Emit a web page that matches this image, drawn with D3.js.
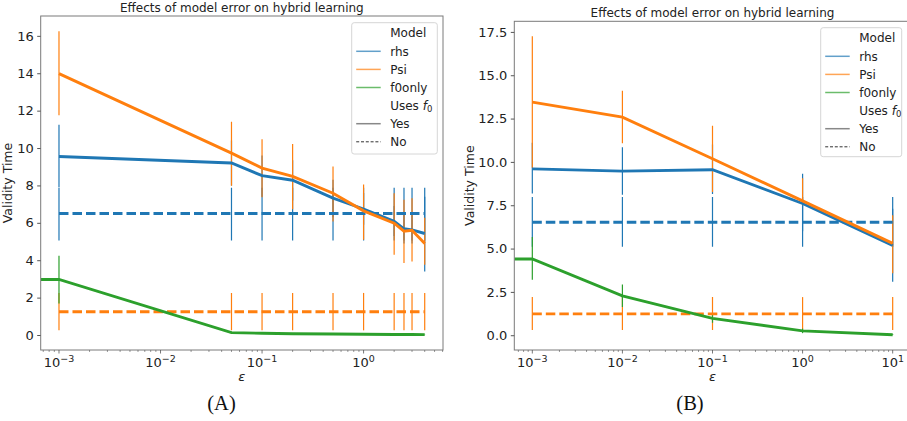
<!DOCTYPE html>
<html>
<head>
<meta charset="utf-8">
<script src="https://cdn.jsdelivr.net/npm/d3@7"></script>
<style>
  body { margin: 0; background: #fff; }
  svg { display: block; font-family: "DejaVu Sans", sans-serif; }
</style>
</head>
<body>
<div id="wrapper"></div>
<script>
// ---- panel A data ----
const epsA = [0.001, 0.05, 0.1, 0.2, 0.5, 1, 2, 2.5, 3, 4];
const rhsYesA   = [9.55, 9.2, 8.52, 8.28, 7.32, 6.74, 6.08, 5.68, 5.62, 5.43];
const rhsYesLoA = [7.9, 8.0, 7.4, 7.2, 6.3, 5.9, 5.3, 4.9, 4.9, 3.4];
const rhsYesHiA = [11.25, 10.4, 9.6, 9.35, 8.3, 7.6, 6.9, 6.5, 6.4, 7.4];
const psiYesA   = [13.98, 9.73, 8.93, 8.48, 7.58, 6.64, 5.98, 5.55, 5.6, 4.9];
const psiYesLoA = [11.75, 7.98, 7.37, 6.73, 6.07, 5.1, 4.29, 3.85, 3.93, 3.76];
const psiYesHiA = [16.25, 11.41, 10.47, 10.22, 9.01, 8.05, 7.58, 7.23, 7.32, 6.27];
const rhsNoA    = [6.5, 6.5, 6.5, 6.5, 6.5, 6.5, 6.5, 6.5, 6.5, 6.5];
const rhsNoLoA  = [5.05, 5.05, 5.05, 5.05, 5.05, 5.05, 5.05, 5.05, 5.05, 5.05];
const rhsNoHiA  = [7.88, 7.88, 7.88, 7.88, 7.88, 7.88, 7.88, 7.88, 7.88, 7.88];
const psiNoA    = [1.24, 1.24, 1.24, 1.24, 1.24, 1.24, 1.24, 1.24, 1.24, 1.24];
const psiNoLoA  = [0.25, 0.25, 0.25, 0.25, 0.25, 0.25, 0.25, 0.25, 0.25, 0.25];
const psiNoHiA  = [2.25, 2.25, 2.25, 2.25, 2.25, 2.25, 2.25, 2.25, 2.25, 2.25];
const epsF0A     = [0, 0.001, 0.05, 0.1, 0.2, 0.5, 1, 2, 2.5, 3, 4];
const f0onlyA    = [2.97, 2.97, 0.13, 0.09, 0.07, 0.05, 0.04, 0.03, 0.03, 0.03, 0.02];
const f0onlyLoA  = [2.97, 1.68, 0.08, 0.05, 0.04, 0.03, 0.02, 0.02, 0.02, 0.02, 0.01];
const f0onlyHiA  = [2.97, 4.24, 0.18, 0.13, 0.1, 0.07, 0.06, 0.04, 0.04, 0.04, 0.03];
const yTicksA = [0, 2, 4, 6, 8, 10, 12, 14, 16];

// ---- panel B data ----
const epsB = [0.001, 0.01, 0.1, 1, 10];
const rhsYesB   = [9.6, 9.47, 9.55, 7.6, 5.18];
const rhsYesLoB = [8.17, 8.1, 8.15, 6.0, 3.08];
const rhsYesHiB = [11.1, 10.84, 11.0, 9.32, 7.3];
const psiYesB   = [13.45, 12.58, 10.18, 7.75, 5.3];
const psiYesLoB = [9.66, 11.07, 8.26, 7.5, 3.57];
const psiYesHiB = [17.25, 14.1, 12.09, 9.05, 6.92];
const rhsNoB    = [6.52, 6.52, 6.52, 6.52, 6.52];
const rhsNoLoB  = [5.1, 5.1, 5.1, 5.1, 5.1];
const rhsNoHiB  = [7.97, 7.97, 7.97, 7.97, 7.97];
const psiNoB    = [1.23, 1.23, 1.23, 1.23, 1.23];
const psiNoLoB  = [0.3, 0.3, 0.3, 0.3, 0.3];
const psiNoHiB  = [2.2, 2.2, 2.2, 2.2, 2.2];
const epsF0B     = [0, 0.001, 0.01, 0.1, 1, 10];
const f0onlyB    = [4.4, 4.4, 2.27, 0.97, 0.25, 0.03];
const f0onlyLoB  = [4.4, 3.2, 1.63, 0.72, 0.12, 0.01];
const f0onlyHiB  = [4.4, 5.67, 2.93, 1.25, 0.38, 0.06];
const yTicksB = [0, 2.5, 5, 7.5, 10, 12.5, 15, 17.5];

const colors = { rhs: '#1f77b4', Psi: '#ff7f0e', f0only: '#2ca02c' };
const titleText = 'Effects of model error on hybrid learning';

const width = 907, height = 421;
const svg = d3.select('#wrapper').append('svg')
  .attr('width', width)
  .attr('height', height);

function series(model, dashed, eps, mean, lo, hi) {
  return eps.map((e, i) => ({ model, dashed, eps: e, mean: mean[i], lo: lo[i], hi: hi[i] }));
}

function drawPanel(p) {
  const { x0, x1, y0, y1 } = p.box;
  const all = p.groups.flat();
  const pos = all.filter(d => d.eps > 0);

  // log x with 5% margins in log space, like matplotlib autoscale
  const lx = d3.extent(pos, d => Math.log10(d.eps));
  const mx = (lx[1] - lx[0]) * 0.05;
  const xScale = d3.scaleLog()
    .domain([Math.pow(10, lx[0] - mx), Math.pow(10, lx[1] + mx)])
    .range([x0, x1]);
  const ly = [d3.min(all, d => d.lo), d3.max(all, d => d.hi)];
  const my = (ly[1] - ly[0]) * 0.05;
  const yScale = d3.scaleLinear()
    .domain([ly[0] - my, ly[1] + my])
    .range([y1, y0]);

  // eps = 0 sits at -inf on a log axis: pin it to the left edge
  const xPos = d => d.eps > 0 ? xScale(d.eps) : x0;

  const clipId = 'clip' + p.id;
  svg.append('clipPath').attr('id', clipId)
    .append('rect').attr('x', x0).attr('y', y0).attr('width', x1 - x0).attr('height', y1 - y0);

  const plot = svg.append('g').attr('clip-path', `url(#${clipId})`);

  // error bars first (all groups), then lines on top
  p.groups.forEach(g => {
    plot.append('g').selectAll('line')
      .data(g.filter(d => d.eps > 0))
      .join('line')
      .attr('x1', d => xScale(d.eps))
      .attr('x2', d => xScale(d.eps))
      .attr('y1', d => yScale(d.lo))
      .attr('y2', d => yScale(d.hi))
      .attr('stroke', d => colors[d.model])
      .attr('stroke-width', 1.2);
  });

  const lineGen = d3.line().x(xPos).y(d => yScale(d.mean));
  p.groups.forEach(g => {
    plot.append('path')
      .attr('d', lineGen(g))
      .attr('fill', 'none')
      .attr('stroke', colors[g[0].model])
      .attr('stroke-width', 2.9)
      .attr('stroke-dasharray', g[0].dashed ? '9.5,4' : null);
  });

  // frame
  svg.append('rect')
    .attr('x', x0).attr('y', y0)
    .attr('width', x1 - x0).attr('height', y1 - y0)
    .attr('fill', 'none').attr('stroke', '#7a7a7a').attr('stroke-width', 1);

  // y axis
  const yAxis = svg.append('g')
    .attr('transform', `translate(${x0},0)`)
    .call(d3.axisLeft(yScale).tickValues(p.yTicks).tickSize(3.5).tickPadding(3.5).tickFormat(p.yFormat));
  yAxis.select('.domain').remove();
  yAxis.selectAll('.tick line').attr('stroke', '#555');
  yAxis.selectAll('.tick text').attr('font-size', 13).attr('fill', '#222')
    .attr('font-family', '"DejaVu Sans", sans-serif');

  // x axis: major decades with superscript labels + minor ticks
  const dom = xScale.domain().map(Math.log10);
  const majors = d3.range(Math.ceil(dom[0]), Math.floor(dom[1]) + 1);
  const minors = [];
  d3.range(Math.floor(dom[0]), Math.ceil(dom[1]) + 1).forEach(n => {
    d3.range(2, 10).forEach(k => {
      const v = k * Math.pow(10, n);
      if (v >= xScale.domain()[0] && v <= xScale.domain()[1]) minors.push(v);
    });
  });
  const xAxis = svg.append('g');
  xAxis.selectAll('line.minor').data(minors).join('line')
    .attr('x1', d => xScale(d)).attr('x2', d => xScale(d))
    .attr('y1', y1).attr('y2', y1 + 2)
    .attr('stroke', '#555').attr('stroke-width', 0.6);
  xAxis.selectAll('line.major').data(majors).join('line')
    .attr('x1', d => xScale(Math.pow(10, d))).attr('x2', d => xScale(Math.pow(10, d)))
    .attr('y1', y1).attr('y2', y1 + 3.5)
    .attr('stroke', '#555').attr('stroke-width', 0.8);
  const labels = xAxis.selectAll('text').data(majors).join('text')
    .attr('x', d => xScale(Math.pow(10, d)))
    .attr('y', y1 + 17)
    .attr('text-anchor', 'middle')
    .attr('font-size', 13)
    .attr('fill', '#222');
  labels.append('tspan').text('10');
  labels.append('tspan').attr('dy', -5.5).attr('font-size', 9.5)
    .text(d => d < 0 ? '\u2212' + Math.abs(d) : String(d));

  // axis labels, title, caption
  svg.append('text')
    .attr('x', (x0 + x1) / 2).attr('y', y1 + 31)
    .attr('text-anchor', 'middle').attr('font-size', 13)
    .attr('font-style', 'italic').attr('fill', '#222')
    .text('\u03b5');
  svg.append('text')
    .attr('transform', `translate(${x0 - p.ylabelGap},${(y0 + y1) / 2}) rotate(-90)`)
    .attr('text-anchor', 'middle').attr('font-size', 12.5).attr('fill', '#222')
    .text('Validity Time');
  svg.append('text')
    .attr('x', (x0 + x1) / 2).attr('y', y0 - 4)
    .attr('text-anchor', 'middle').attr('font-size', 12).attr('fill', '#222')
    .text(titleText);
  svg.append('text')
    .attr('x', p.captionX).attr('y', 410)
    .attr('text-anchor', 'middle').attr('font-size', 20.5)
    .attr('font-family', '"Liberation Serif", serif').attr('fill', '#111')
    .text(p.caption);

  // legend
  const lg = svg.append('g').attr('transform', `translate(${p.legend.x},${p.legend.y})`);
  lg.append('rect')
    .attr('width', p.legend.w).attr('height', p.legend.h)
    .attr('rx', 2.5)
    .attr('fill', '#fff').attr('fill-opacity', 0.85)
    .attr('stroke', '#d6d6d6').attr('stroke-width', 1);
  const entries = [
    { label: 'Model' },
    { label: 'rhs', color: colors.rhs },
    { label: 'Psi', color: colors.Psi },
    { label: 'f0only', color: colors.f0only },
    { label: 'Uses', sub: true },
    { label: 'Yes', color: '#555' },
    { label: 'No', color: '#333', dashed: true }
  ];
  entries.forEach((e, i) => {
    const by = 14.8 + i * 18.1;
    if (e.color) {
      lg.append('line')
        .attr('x1', 4.5).attr('x2', 29)
        .attr('y1', by - 4.3).attr('y2', by - 4.3)
        .attr('stroke', e.color)
        .attr('stroke-width', e.dashed ? 1 : 1.5)
        .attr('stroke-opacity', e.dashed ? 1 : 0.7)
        .attr('stroke-dasharray', e.dashed ? '3,1.8' : null);
    }
    const t = lg.append('text').attr('x', 38.5).attr('y', by)
      .attr('font-size', 12).attr('fill', '#222').text(e.label);
    if (e.sub) {
      t.append('tspan').attr('font-style', 'italic').text(' f');
      t.append('tspan').attr('font-size', 8.5).attr('dy', 2.5).text('0');
    }
  });
}

drawPanel({
  id: 'A',
  box: { x0: 40.7, x1: 443, y0: 16, y1: 350 },
  groups: [
    series('rhs', false, epsA, rhsYesA, rhsYesLoA, rhsYesHiA),
    series('rhs', true, epsA, rhsNoA, rhsNoLoA, rhsNoHiA),
    series('Psi', false, epsA, psiYesA, psiYesLoA, psiYesHiA),
    series('Psi', true, epsA, psiNoA, psiNoLoA, psiNoHiA),
    series('f0only', false, epsF0A, f0onlyA, f0onlyLoA, f0onlyHiA)
  ],
  yTicks: yTicksA,
  yFormat: d3.format('d'),
  ylabelGap: 29,
  caption: '(A)',
  captionX: 221.5,
  legend: { x: 351.7, y: 22.7, w: 85.6, h: 131.3 }
});

drawPanel({
  id: 'B',
  box: { x0: 514.3, x1: 910.7, y0: 21.3, y1: 350 },
  groups: [
    series('rhs', false, epsB, rhsYesB, rhsYesLoB, rhsYesHiB),
    series('rhs', true, epsB, rhsNoB, rhsNoLoB, rhsNoHiB),
    series('Psi', false, epsB, psiYesB, psiYesLoB, psiYesHiB),
    series('Psi', true, epsB, psiNoB, psiNoLoB, psiNoHiB),
    series('f0only', false, epsF0B, f0onlyB, f0onlyLoB, f0onlyHiB)
  ],
  yTicks: yTicksB,
  yFormat: d3.format('.1f'),
  ylabelGap: 40,
  caption: '(B)',
  captionX: 690,
  legend: { x: 820.7, y: 27.7, w: 81, h: 129 }
});
</script>
</body>
</html>
